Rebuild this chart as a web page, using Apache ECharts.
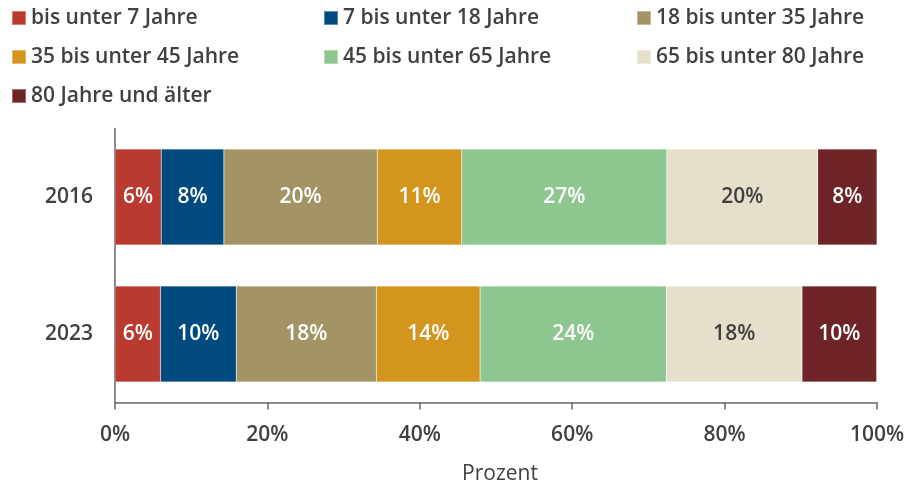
<!DOCTYPE html>
<html>
<head>
<meta charset="utf-8">
<script src="https://cdn.jsdelivr.net/npm/echarts@6/dist/echarts.min.js"></script>
<style>
html,body{margin:0;padding:0;background:#fff;}
#chart{width:908px;height:485px;}
</style>
</head>
<body>
<div id="chart"></div>
<script>
const categories = ['2016', '2023'];
const seriesNames = ['bis unter 7 Jahre', '7 bis unter 18 Jahre', '18 bis unter 35 Jahre',
  '35 bis unter 45 Jahre', '45 bis unter 65 Jahre', '65 bis unter 80 Jahre', '80 Jahre und älter'];
const s0to7 = [6.07, 5.98];
const s7to18 = [8.22, 9.93];
const s18to35 = [20.14, 18.4];
const s35to45 = [11.07, 13.6];
const s45to65 = [26.92, 24.45];
const s65to80 = [19.8, 17.8];
const s80plus = [7.78, 9.79];
const xTicks = [0, 20, 40, 60, 80, 100];

const values = [s0to7, s7to18, s18to35, s35to45, s45to65, s65to80, s80plus];
const colors = ['#BA3A2F', '#004A80', '#A39466', '#D4951F', '#8DC68F', '#E5DFCC', '#6E2426'];
const labelColors = ['#fff', '#fff', '#fff', '#fff', '#fff', '#404040', '#fff'];
const FONT = '"Open Sans", sans-serif';
const TXT = '#404040';
const FS = 21;

const legendPos = [
  [11, 6], [323, 6], [636, 6],
  [11, 45], [323, 45], [636, 45],
  [11, 84]
];

const chart = echarts.init(document.getElementById('chart'));
chart.setOption({
  animation: false,
  textStyle: { fontFamily: FONT },
  legend: seriesNames.map((n, i) => ({
    data: [n],
    left: legendPos[i][0],
    top: legendPos[i][1],
    padding: 0,
    icon: 'rect',
    itemWidth: 14,
    itemHeight: 14,
    itemGap: 0,
    textStyle: { fontFamily: FONT, fontSize: FS, fontWeight: 600, color: TXT, lineHeight: 24 }
  })),
  grid: { left: 115, right: 31, top: 128.5, bottom: 82.5, containLabel: false, outerBoundsMode: 'none' },
  xAxis: {
    type: 'value',
    min: 0, max: 100, interval: 20,
    name: 'Prozent',
    nameLocation: 'middle',
    nameGap: 61,
    nameTextStyle: { fontFamily: FONT, fontSize: FS, color: TXT, padding: [0, 0, 0, 8] },
    axisLine: { show: true, lineStyle: { color: '#666', width: 1.5 } },
    axisTick: { show: true, length: 7, lineStyle: { color: '#666', width: 1.5 } },
    splitLine: { show: false },
    axisLabel: {
      margin: 22,
      fontFamily: FONT, fontSize: FS, fontWeight: 600, color: TXT,
      formatter: v => xTicks.includes(v) ? v + '%' : ''
    }
  },
  yAxis: {
    type: 'category',
    data: categories,
    inverse: true,
    axisLine: { show: true, lineStyle: { color: '#666', width: 1.5 } },
    axisTick: { show: false },
    axisLabel: { margin: 22, fontFamily: FONT, fontSize: FS, fontWeight: 600, color: TXT }
  },
  series: seriesNames.map((n, i) => ({
    name: n,
    type: 'bar',
    stack: 'total',
    barWidth: '70%',
    data: values[i],
    itemStyle: { color: colors[i], borderColor: 'rgba(255,255,255,0.35)', borderWidth: 0.5 },
    label: {
      show: true,
      position: 'inside',
      fontFamily: FONT, fontSize: FS, fontWeight: 600,
      color: labelColors[i],
      formatter: p => Math.round(p.value) + '%'
    }
  }))
});
</script>
</body>
</html>
